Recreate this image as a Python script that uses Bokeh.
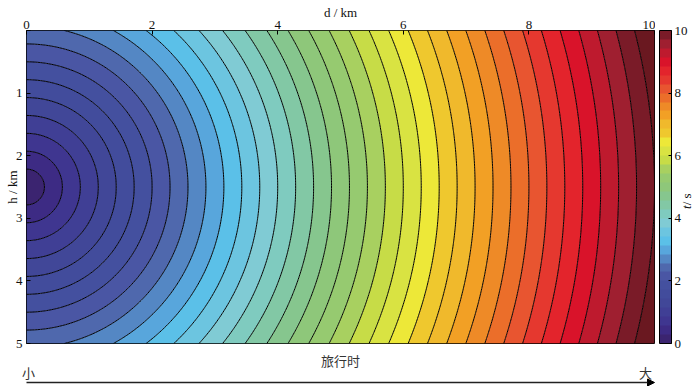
import numpy as np
from bokeh.plotting import figure
from bokeh.layouts import column, row
from bokeh.core.properties import value
from bokeh.models import (Range1d, LinearColorMapper, ColorBar, FixedTicker,
                          Label, Arrow, NormalHead)
from bokeh.embed import file_html
from bokeh.resources import INLINE

# ---------------- data ----------------
d_km = np.linspace(0, 10, 401)          # horizontal distance
h_km = np.linspace(0, 5, 201)           # depth
source_depth_km = 2.5                   # source position
velocity_km_s = 1.0                     # t = 10 s at d = 10 km on the source row
levels_s = np.linspace(0, 10, 36)       # 35 contour bands between 0 and 10 s
x_ticks = [0, 2, 4, 6, 8, 10]
y_ticks = [0, 1, 2, 3, 4, 5]
cbar_ticks = [0, 2, 4, 6, 8, 10]
band_colors = [
    "#3b2470", "#3d2b84", "#3f3690", "#403f95", "#414798", "#424c9c", "#44509f",
    "#4a56a4", "#4f68ad", "#5487c4", "#58a6dc", "#5bc0e8", "#6cc5e0", "#80cbd4",
    "#7fcbbf", "#82c8a5", "#86c68e", "#8ec77a", "#96ca70", "#a8d060", "#c7dc47",
    "#d9e342", "#ede838", "#efc82e", "#f0b92c", "#f2a025", "#ee8a27", "#eb6e2a",
    "#e85530", "#e5382f", "#e3242c", "#d9132a", "#be1a2e", "#9f1f30", "#7a1b28",
]
over_color = "#6a1820"
bottom_title = "旅行时"
low_word, high_word = "小", "大"

D, H = np.meshgrid(d_km, h_km)
travel_time_s = np.hypot(D, H - source_depth_km) / velocity_km_s

SERIF = "Liberation Serif"
CJK = "Noto Sans CJK SC"

# ---------------- layout constants (pixels) ----------------
TOTAL_W, TOTAL_H = 700, 386
MAIN_W, MAIN_H = 655, 351
FRAME_L, FRAME_T, FRAME_R, FRAME_B = 26, 30, 1, 8
FRAME_W = MAIN_W - FRAME_L - FRAME_R          # 628
PX_PER_KM = FRAME_W / 10.0
BOT_H = TOTAL_H - MAIN_H

# ---------------- main contour plot ----------------
p = figure(width=MAIN_W, height=MAIN_H,
           x_range=Range1d(0, 10), y_range=Range1d(5, 0),
           x_axis_location="above",
           output_backend="svg", toolbar_location=None,
           min_border_left=FRAME_L, min_border_right=FRAME_R,
           min_border_top=FRAME_T, min_border_bottom=FRAME_B)
p.grid.visible = False
p.outline_line_color = "black"
p.outline_line_width = 1

all_levels = list(levels_s) + [float(travel_time_s.max()) + 0.01]
p.contour(x=d_km, y=h_km, z=travel_time_s, levels=all_levels,
          fill_color=band_colors + [over_color],
          line_color="black", line_width=1)

for ax, ticks in ((p.xaxis, x_ticks), (p.yaxis, y_ticks)):
    ax.ticker = FixedTicker(ticks=ticks)
    ax.major_tick_in = 4
    ax.major_tick_out = 0
    ax.minor_tick_line_color = None
    ax.axis_line_color = None
    ax.major_tick_line_color = "black"
    ax.major_label_text_font = SERIF
    ax.major_label_text_font_size = "13px"
    ax.major_label_text_color = "#111111"
    ax.axis_label_text_font = SERIF
    ax.axis_label_text_font_size = "13px"
    ax.axis_label_text_font_style = "normal"
    ax.axis_label_text_color = "#111111"
p.yaxis.major_label_overrides = {0: ""}
p.xaxis.axis_label = "d / km"
p.xaxis.major_label_standoff = 2
p.xaxis.axis_label_standoff = -2
p.yaxis.axis_label = "h / km"
p.yaxis.major_label_standoff = 4
p.yaxis.axis_label_standoff = -7

# ---------------- colour bar strip ----------------
CB_W = TOTAL_W - MAIN_W
cf = figure(width=CB_W, height=MAIN_H,
            x_range=Range1d(0, CB_W), y_range=Range1d(MAIN_H, 0),
            x_axis_location=None, y_axis_location=None,
            output_backend="svg", toolbar_location=None,
            min_border_left=0, min_border_right=0,
            min_border_top=0, min_border_bottom=0)
cf.grid.visible = False
cf.outline_line_color = None

mapper = LinearColorMapper(palette=band_colors, low=0, high=10)
cb = ColorBar(color_mapper=mapper, ticker=FixedTicker(ticks=cbar_ticks),
              width=12, height=MAIN_H - FRAME_T - FRAME_B,
              location=(4, 0), margin=0, padding=0, label_standoff=3,
              major_label_text_font=SERIF, major_label_text_font_size="13px",
              major_label_text_color="#111111",
              bar_line_color="black", major_tick_line_color="black",
              major_tick_in=3, minor_tick_line_color=None,
              border_line_color=None, background_fill_alpha=0)
cf.add_layout(cb)

lab = dict(text_font=SERIF, text_font_size="13px", text_color="#111111",
           text_baseline="middle")
cf.add_layout(Label(x=31, y=196, text="t", angle=np.pi / 2,
                    text_font_style="italic", text_align="right", **lab))
cf.add_layout(Label(x=31, y=196, text=" / s", angle=np.pi / 2,
                    text_align="left", **lab))

# ---------------- bottom strip: travel-time arrow ----------------
bf = figure(width=TOTAL_W, height=BOT_H,
            x_range=Range1d(-FRAME_L / PX_PER_KM,
                            10 + (TOTAL_W - MAIN_W + FRAME_R) / PX_PER_KM),
            y_range=Range1d(BOT_H, 0),
            x_axis_location=None, y_axis_location=None,
            output_backend="svg", toolbar_location=None,
            min_border_left=0, min_border_right=0,
            min_border_top=0, min_border_bottom=0)
bf.grid.visible = False
bf.outline_line_color = None

cjk = dict(text_font=value(CJK), text_font_size="13px", text_color="#333333",
           text_baseline="middle", text_align="center")
bf.text(x=[5], y=[9], text=[bottom_title], **cjk)
bf.text(x=[0, 10], y=[21, 21], text=[low_word, high_word],
        x_offset=[2, -9], **cjk)
bf.add_layout(Arrow(x_start=0, y_start=31, x_end=10, y_end=31,
                    line_color="#222222", line_width=1.5,
                    end=NormalHead(size=7, fill_color="black",
                                   line_color="black")))

layout = column(row(p, cf), bf)
open("out.html", "w").write(file_html(layout, INLINE))
